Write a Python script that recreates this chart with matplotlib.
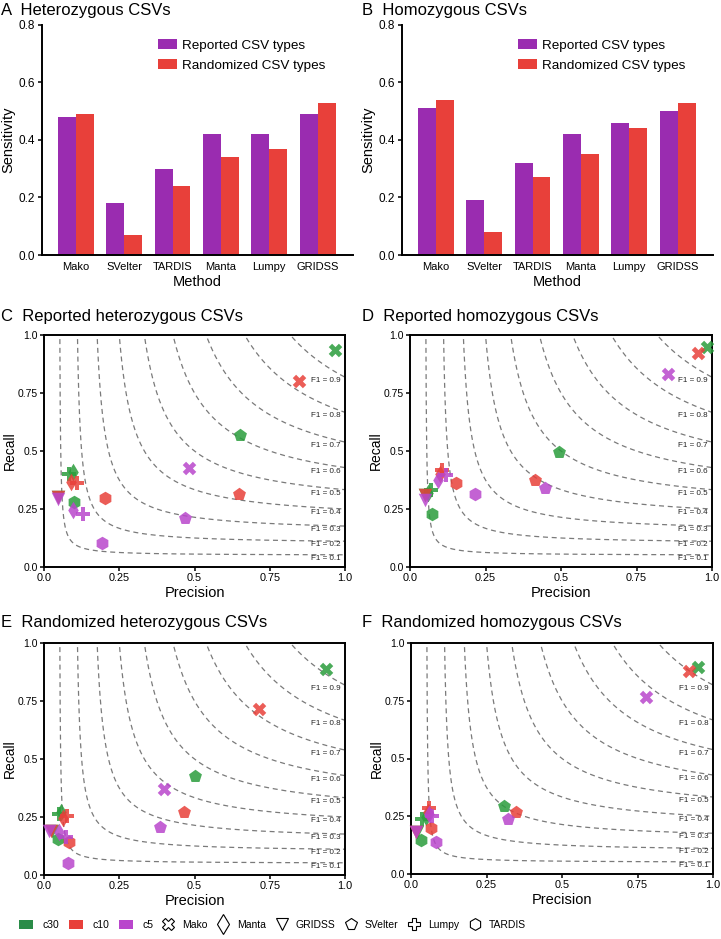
import numpy as np
import matplotlib
matplotlib.use("Agg")
import matplotlib.pyplot as plt
from matplotlib.patches import Patch
from matplotlib.lines import Line2D

plt.rcParams['font.family'] = ['Liberation Sans', 'DejaVu Sans']

# ---------------- data ----------------
methods = ['Mako', 'SVelter', 'TARDIS', 'Manta', 'Lumpy', 'GRIDSS']
het_reported = [0.48, 0.18, 0.30, 0.42, 0.42, 0.49]
het_randomized = [0.49, 0.07, 0.24, 0.34, 0.37, 0.53]
hom_reported = [0.51, 0.19, 0.32, 0.42, 0.46, 0.50]
hom_randomized = [0.54, 0.08, 0.27, 0.35, 0.44, 0.53]

tools = ['Mako', 'Manta', 'GRIDSS', 'SVelter', 'Lumpy', 'TARDIS']
coverages = ['c30', 'c10', 'c5']

# precision / recall per coverage, in tool order above
C_prec = {'c30': [0.967, 0.096, 0.045, 0.652, 0.083, 0.100],
          'c10': [0.848, 0.090, 0.045, 0.649, 0.110, 0.202],
          'c5':  [0.483, 0.095, 0.045, 0.467, 0.130, 0.192]}
C_rec = {'c30': [0.935, 0.410, 0.300, 0.569, 0.400, 0.280],
         'c10': [0.800, 0.365, 0.300, 0.315, 0.360, 0.297],
         'c5':  [0.427, 0.245, 0.295, 0.211, 0.230, 0.103]}

D_prec = {'c30': [0.982, 0.060, 0.050, 0.493, 0.069, 0.073],
          'c10': [0.954, 0.100, 0.050, 0.414, 0.105, 0.152],
          'c5':  [0.854, 0.093, 0.050, 0.447, 0.119, 0.215]}
D_rec = {'c30': [0.948, 0.320, 0.310, 0.496, 0.332, 0.228],
         'c10': [0.922, 0.400, 0.310, 0.375, 0.418, 0.362],
         'c5':  [0.832, 0.375, 0.290, 0.340, 0.397, 0.315]}

E_prec = {'c30': [0.937, 0.056, 0.025, 0.500, 0.050, 0.046],
          'c10': [0.715, 0.063, 0.022, 0.464, 0.076, 0.083],
          'c5':  [0.400, 0.050, 0.017, 0.384, 0.072, 0.079]}
E_rec = {'c30': [0.888, 0.270, 0.190, 0.427, 0.262, 0.155],
         'c10': [0.716, 0.245, 0.190, 0.270, 0.254, 0.142],
         'c5':  [0.370, 0.185, 0.190, 0.207, 0.164, 0.052]}

F_prec = {'c30': [0.950, 0.050, 0.020, 0.308, 0.036, 0.033],
          'c10': [0.920, 0.055, 0.018, 0.348, 0.060, 0.066],
          'c5':  [0.778, 0.060, 0.016, 0.320, 0.070, 0.083]}
F_rec = {'c30': [0.896, 0.247, 0.180, 0.294, 0.238, 0.147],
         'c10': [0.879, 0.270, 0.180, 0.268, 0.285, 0.199],
         'c5':  [0.766, 0.260, 0.180, 0.238, 0.251, 0.140]}

f1_levels = [0.1, 0.2, 0.3, 0.4, 0.5, 0.6, 0.7, 0.8, 0.9]
pr_ticks = [0.0, 0.25, 0.5, 0.75, 1.0]
pr_ticklabels = ['0.0', '0.25', '0.5', '0.75', '1.0']
bar_yticks = [0.0, 0.2, 0.4, 0.6, 0.8]

# ---------------- style ----------------
PURPLE = '#9a2cb0'
RED = '#e8403a'
cov_colors = {'c30': '#2a9d3c', 'c10': '#e8403a', 'c5': '#b946cc'}
legend_cov_colors = {'c30': '#2a8c48', 'c10': '#e8403a', 'c5': '#b946cc'}
tool_markers = {'Mako': 'X', 'Manta': 'd', 'GRIDSS': 'v', 'SVelter': 'p',
                'Lumpy': 'P', 'TARDIS': 'h'}

W, H = 721, 939
fig = plt.figure(figsize=(W / 100, H / 100), dpi=100)


def rect(l, t, r, b):
    return [l / W, 1 - b / H, (r - l) / W, (b - t) / H]


def title(x, y, letter, text):
    fig.text(x / W, 1 - y / H, letter + '  ' + text, fontsize=12,
             ha='left', va='center')


def bar_panel(box, rep, rnd, letter, text, tx, ty):
    ax = fig.add_axes(rect(*box))
    x = np.arange(len(methods))
    w = 0.37
    ax.bar(x - w / 2, rep, w, color=PURPLE, label='Reported CSV types')
    ax.bar(x + w / 2, rnd, w, color=RED, label='Randomized CSV types')
    ax.set_xlim(-0.7, 5.73)
    ax.set_ylim(0, 0.8)
    ax.set_xticks(x)
    ax.set_xticklabels(methods, fontsize=8)
    ax.set_yticks(bar_yticks)
    ax.set_yticklabels([f'{v:.1f}' for v in bar_yticks], fontsize=8.5)
    ax.tick_params(axis='x', length=0, pad=5)
    ax.tick_params(axis='y', length=3, width=1.1, pad=2)
    for s in ['top', 'right']:
        ax.spines[s].set_visible(False)
    for s in ['left', 'bottom']:
        ax.spines[s].set_linewidth(1.4)
    ax.set_xlabel('Method', fontsize=10.5, labelpad=2)
    ax.set_ylabel('Sensitivity', fontsize=10.5, labelpad=2)
    ax.legend(loc='upper right', bbox_to_anchor=(0.95, 0.99), frameon=False,
              fontsize=9.7, handlelength=1.35, handleheight=0.75,
              handletextpad=0.4, labelspacing=0.55)
    title(tx, ty, letter, text)
    return ax


def scatter_panel(box, prec, rec, letter, text, tx, ty):
    ax = fig.add_axes(rect(*box))
    for f in f1_levels:
        pmin = f * 1.02 / (2 * 1.02 - f)
        p = np.linspace(pmin, 1.0, 20000)
        r = f * p / (2 * p - f)
        ax.plot(p, r, ls=(0, (4, 3)), color='#7a7a7a', lw=0.9, zorder=1)
        ax.text(0.985, f / (2 - f), f'F1 = {f:.1f}', fontsize=5.8,
                ha='right', va='top', color='#222222', zorder=2)
    for cov in coverages:
        for i, t in enumerate(tools):
            ax.scatter(prec[cov][i], rec[cov][i], marker=tool_markers[t],
                       s=95 if t != 'Manta' else 80, color=cov_colors[cov],
                       alpha=0.85, linewidths=0, zorder=3, clip_on=False)
    ax.set_xlim(0, 1)
    ax.set_ylim(0, 1)
    ax.set_xticks(pr_ticks)
    ax.set_xticklabels(pr_ticklabels, fontsize=7.8)
    ax.set_yticks(pr_ticks)
    ax.set_yticklabels(pr_ticklabels, fontsize=7.5)
    ax.tick_params(length=3, width=1.1, pad=1.5)
    for s in ax.spines.values():
        s.set_linewidth(1.4)
    ax.set_xlabel('Precision', fontsize=10.5, labelpad=2)
    ax.set_ylabel('Recall', fontsize=10, labelpad=0.5)
    title(tx, ty, letter, text)
    return ax


bar_panel((42, 25, 353, 255), het_reported, het_randomized,
          'A', 'Heterozygous CSVs', 1, 10)
bar_panel((402, 25, 713, 255), hom_reported, hom_randomized,
          'B', 'Homozygous CSVs', 362, 10)

scatter_panel((44, 335, 345, 567), C_prec, C_rec,
              'C', 'Reported heterozygous CSVs', 1, 316)
scatter_panel((410, 335, 712, 567), D_prec, D_rec,
              'D', 'Reported homozygous CSVs', 362, 316)
scatter_panel((44, 643, 345, 875), E_prec, E_rec,
              'E', 'Randomized heterozygous CSVs', 1, 623)
scatter_panel((411, 643, 713, 874), F_prec, F_rec,
              'F', 'Randomized homozygous CSVs', 362, 623)

# ---------------- bottom legends ----------------
cov_handles = [Patch(facecolor=legend_cov_colors[c], edgecolor='none')
               for c in coverages]
fig.legend(cov_handles, coverages, loc='center left',
           bbox_to_anchor=(15 / W, 1 - 925 / H), ncol=3, frameon=False,
           fontsize=7.5, handlelength=1.3, handleheight=0.95,
           handletextpad=0.95, columnspacing=0.95, borderaxespad=0)

tool_handles = []
for t in tools:
    tool_handles.append(Line2D([], [], ls='none', marker=tool_markers[t],
                               markersize=8.5 if t != 'Manta' else 10,
                               markerfacecolor='white', markeredgecolor='black',
                               markeredgewidth=0.8))
fig.legend(tool_handles, tools, loc='center left',
           bbox_to_anchor=(158 / W, 1 - 925 / H), ncol=6, frameon=False,
           fontsize=7.5, handlelength=1.1, handletextpad=0.8,
           columnspacing=0.95, borderaxespad=0)

fig.savefig('out.png', dpi=100)
